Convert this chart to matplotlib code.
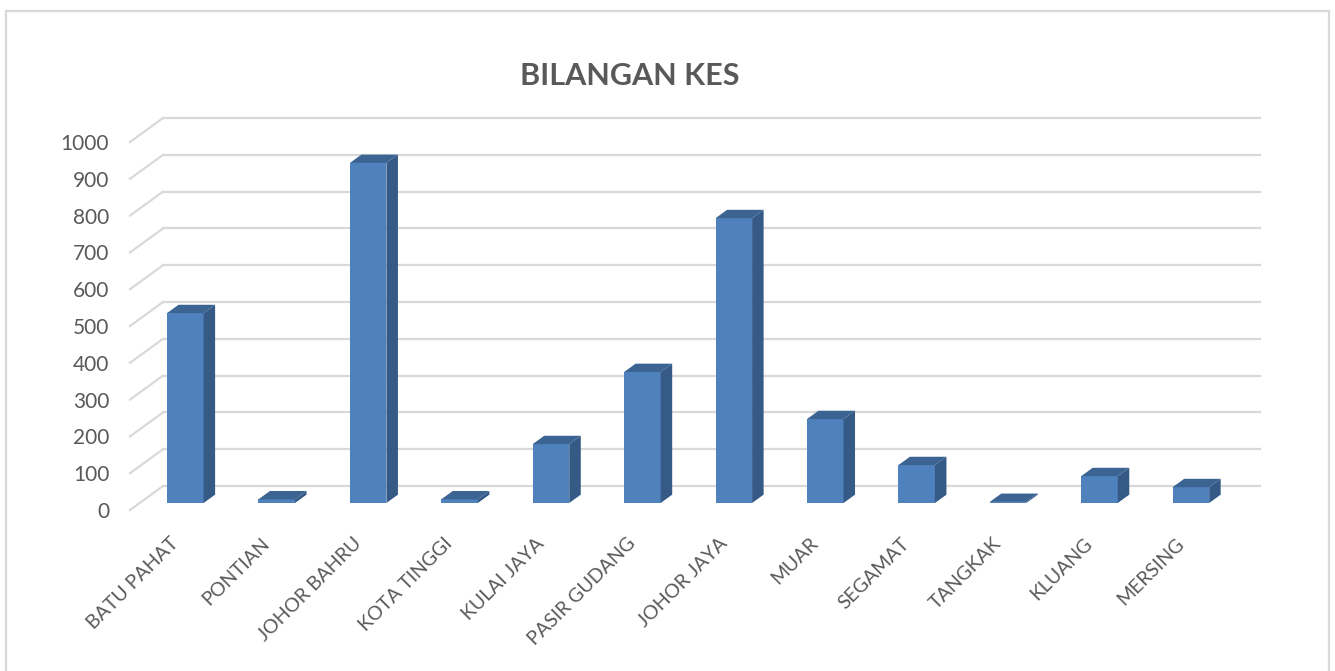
"""Bilangan kes by district, drawn as an Excel-style 3D column chart."""

import numpy as np
import matplotlib

matplotlib.use("Agg")
import matplotlib.pyplot as plt
from matplotlib.patches import Polygon, Rectangle


DISTRICTS = ["BATU PAHAT", "PONTIAN", "JOHOR BAHRU", "KOTA TINGGI", "KULAI JAYA", "PASIR GUDANG",
             "JOHOR JAYA", "MUAR", "SEGAMAT", "TANGKAK", "KLUANG", "MERSING"]
CASES = [516, 10, 924, 10, 160, 356, 774, 228, 103, 3, 73, 43]
Y_TICKS = list(range(0, 1001, 100))
TITLE = "BILANGAN KES"

# oblique depth axis, expressed in data units (x: categories, y: cases)
WALL_DX, WALL_DY = 0.361, 65.0     # back wall relative to the front of the floor
BAR_DX, BAR_DY = 0.105, 19.0       # front face of the columns
DEPTH_DX, DEPTH_DY = 0.126, 22.7   # depth of one column
BAR_WIDTH = 0.40

FRONT = "#4f81bd"
SIDE = "#355a86"
TOP = "#3c6493"
GRID = "#d9d9d9"
TEXT = "#595959"


def main() -> None:
    plt.rcParams["font.family"] = ["Lato", "DejaVu Sans"]

    fig = plt.figure(figsize=(13.35, 6.71), dpi=100)
    ax = fig.add_axes([130 / 1335, 161 / 671, 1097 / 1335, 368 / 671])
    n = len(DISTRICTS)
    ax.set_xlim(-0.5, n - 0.5)
    ax.set_ylim(0, 1000)
    for spine in ax.spines.values():
        spine.set_visible(False)

    # back wall gridlines and the slanted side-wall lines
    for v in Y_TICKS:
        ax.plot([-0.5 + WALL_DX, n - 0.5 + WALL_DX], [v + WALL_DY] * 2,
                color=GRID, lw=1.6, clip_on=False, zorder=1)
        ax.plot([-0.5, -0.5 + WALL_DX], [v, v + WALL_DY],
                color=GRID, lw=1.6, clip_on=False, zorder=1)

    x = np.arange(n) + BAR_DX
    ax.bar(x, CASES, BAR_WIDTH, bottom=BAR_DY, color=FRONT, clip_on=False, zorder=3)
    for xi, v in zip(x, CASES):
        left, right = xi - BAR_WIDTH / 2, xi + BAR_WIDTH / 2
        top = BAR_DY + v
        ax.add_patch(Polygon([(left, top), (right, top), (right + DEPTH_DX, top + DEPTH_DY),
                              (left + DEPTH_DX, top + DEPTH_DY)],
                             closed=True, fc=TOP, ec="none", clip_on=False, zorder=3))
        ax.add_patch(Polygon([(right, BAR_DY), (right + DEPTH_DX, BAR_DY + DEPTH_DY),
                              (right + DEPTH_DX, top + DEPTH_DY), (right, top)],
                             closed=True, fc=SIDE, ec="none", clip_on=False, zorder=3))

    ax.set_yticks(Y_TICKS)
    ax.set_yticklabels([str(v) for v in Y_TICKS])
    ax.tick_params(axis="y", length=0, pad=15, labelsize=15, labelcolor=TEXT)
    ax.set_xticks(range(n))
    ax.set_xticklabels(DISTRICTS, rotation=45, ha="right", va="center", rotation_mode="anchor")
    ax.tick_params(axis="x", length=0, pad=22, labelsize=14, labelcolor=TEXT)

    fig.text(630 / 1335, 1 - 76 / 671, TITLE, ha="center", va="center",
             fontsize=22, fontweight="bold", color=TEXT)

    fig.patches.append(Rectangle((5.5 / 1335, -0.02), 1323.5 / 1335, 1.02 - 11 / 671,
                                 transform=fig.transFigure, fill=False, ec=GRID, lw=1.6))

    fig.savefig("out.png", dpi=100)
    plt.close(fig)


if __name__ == "__main__":
    main()
